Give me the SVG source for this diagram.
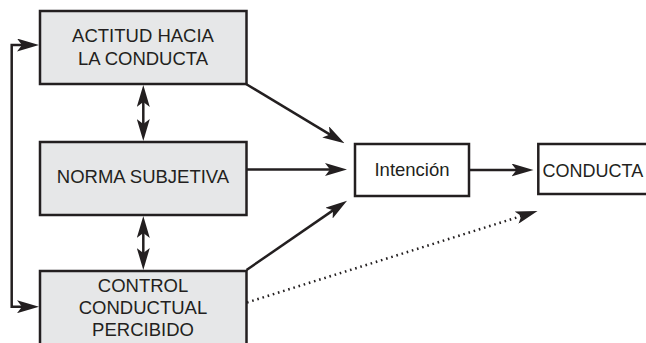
<svg xmlns="http://www.w3.org/2000/svg" width="646" height="343" viewBox="0 0 646 343">
  <style>
    .box { fill: #e6e7e8; stroke: #231f20; stroke-width: 2.5; }
    .wbox { fill: #ffffff; stroke: #231f20; stroke-width: 2.5; }
    .lbl { font-family: "Liberation Sans", Arial, sans-serif; font-size: 18.5px; fill: #231f20; text-anchor: middle; }
    .lblL { font-family: "Liberation Sans", Arial, sans-serif; font-size: 18px; fill: #231f20; }
    .conn { fill: none; stroke: #231f20; stroke-width: 2.5; marker-end: url(#ah); }
    .dbl { marker-start: url(#ah); }
    .dot { stroke-dasharray: 1.6 3.8; }
  </style>
  <defs>
    <marker id="ah" viewBox="0 0 22 13" refX="12" refY="6.5" markerWidth="22" markerHeight="13" markerUnits="userSpaceOnUse" orient="auto-start-reverse">
      <path d="M0,0 L22,6.5 L0,13 L5,6.5 Z" fill="#231f20"/>
    </marker>
  </defs>
  <rect width="646" height="343" fill="#ffffff"/>

  <g id="actitud">
    <rect class="box" x="40" y="11" width="206.5" height="73"/>
    <text class="lbl" x="143" y="42.3">ACTITUD HACIA</text>
    <text class="lbl" x="143" y="65">LA CONDUCTA</text>
  </g>
  <g id="norma">
    <rect class="box" x="40" y="142" width="206.5" height="73"/>
    <text class="lbl" x="143" y="183.3">NORMA SUBJETIVA</text>
  </g>
  <g id="control">
    <rect class="box" x="40" y="271" width="206.5" height="80"/>
    <text class="lbl" x="143" y="292">CONTROL</text>
    <text class="lbl" x="143" y="314">CONDUCTUAL</text>
    <text class="lbl" x="143" y="336">PERCIBIDO</text>
  </g>
  <g id="intencion">
    <rect class="wbox" x="355" y="144" width="114" height="52"/>
    <text class="lbl" x="412" y="175.5">Intención</text>
  </g>
  <g id="conducta">
    <rect class="wbox" x="538.3" y="144" width="130" height="50"/>
    <text class="lblL" x="542.5" y="176.5">CONDUCTA</text>
  </g>

  <g id="connectors">
    <line class="conn" x1="246" y1="84" x2="335.9" y2="138.1"/>
    <line class="conn" x1="247" y1="169.5" x2="337" y2="169.5"/>
    <line class="conn" x1="246.5" y1="270" x2="338.8" y2="206.4"/>
    <line class="conn" x1="469" y1="170" x2="523.5" y2="170"/>
    <line class="conn dot" x1="247" y1="302.5" x2="528" y2="214"/>
    <line class="conn dbl" x1="143.3" y1="95" x2="143.3" y2="131"/>
    <line class="conn dbl" x1="143.3" y1="226" x2="143.3" y2="260"/>
    <path class="conn dbl" d="M29,45 H11.7 V306.7 H29"/>
  </g>
</svg>
